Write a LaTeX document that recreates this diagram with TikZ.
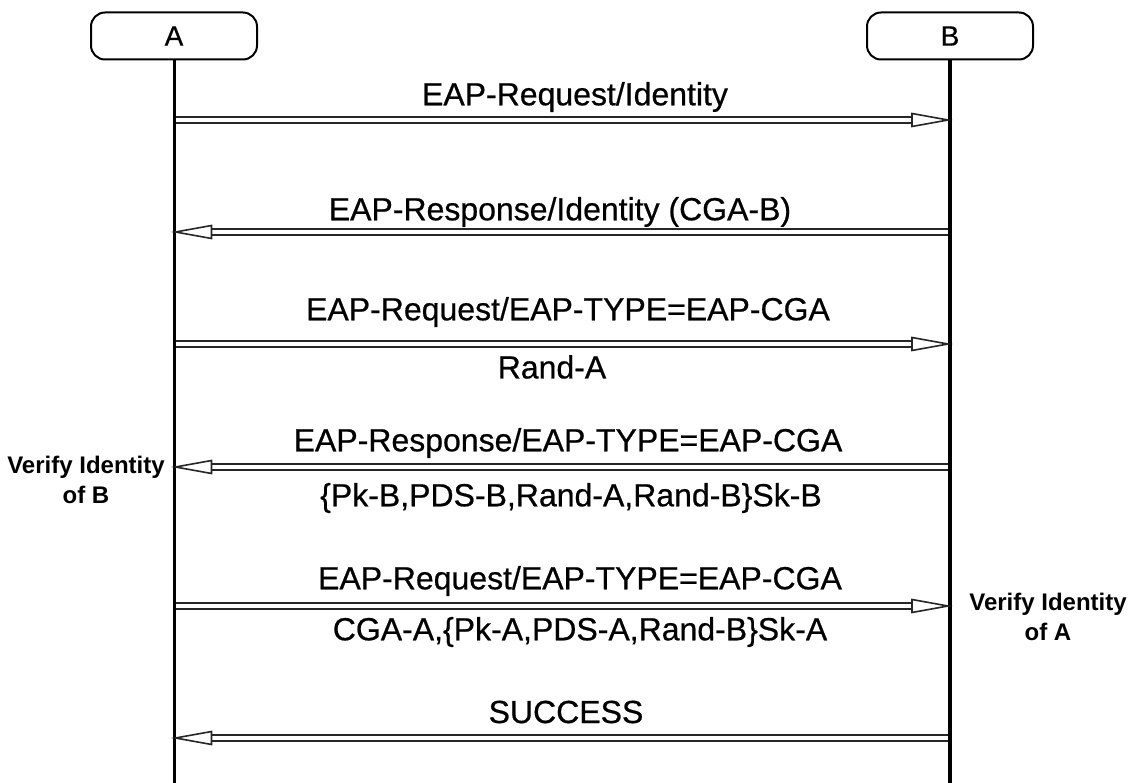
\documentclass[tikz,border=0pt]{standalone}
\usepackage{fontspec}
\setmainfont{Liberation Sans}
\newfontfamily\heavyfont[FakeBold=0.6]{Liberation Sans}
\usetikzlibrary{arrows.meta}
\begin{document}
\begin{tikzpicture}[x=1pt,y=-1pt,
 actor/.style={draw, line width=2pt, rounded corners=14pt, minimum width=166pt, minimum height=47pt, inner sep=0pt, font=\heavyfont\fontsize{28}{32}\selectfont},
 life/.style={line width=3pt},
 shaft/.style={draw=black!85, double=white, double distance=3.2pt, line width=2pt},
 head/.style={draw=black!85, fill=white, line width=1.6pt, line join=miter},
 lbl/.style={font=\heavyfont\fontsize{32}{36}\selectfont, inner sep=0pt},
 side/.style={font=\bfseries\fontsize{24}{30}\selectfont, align=center, inner sep=0pt}]
\useasboundingbox (0,0) rectangle (1130,783);
% actors
\node[actor] (A) at (174,36) {A};
\node[actor] (B) at (950,36) {B};
\coordinate (Aend) at (174,783);
\coordinate (Bend) at (950,783);
\draw[life] (A.south) -- (Aend);
\draw[life, line width=3.5pt] (B.south) -- (Bend);
% message anchor points
\foreach \i/\y in {1/120,2/232,3/344,4/467,5/606,6/738}{
  \coordinate (a\i) at (175.5,\y);
  \coordinate (b\i) at (948,\y);
}
% A -> B messages
\foreach \i in {1,3,5}{
  \draw[shaft, shorten >=35pt] (a\i) -- (b\i);
  \draw[head] (b\i) -- ++(-36,6.5) -- ++(0,-13) -- cycle;
}
% B -> A messages
\foreach \i in {2,4,6}{
  \draw[shaft, shorten >=35pt] (b\i) -- (a\i);
  \draw[head] (a\i) -- ++(36,6.5) -- ++(0,-13) -- cycle;
}
% labels
\node[lbl] (l1) at (575,97) {EAP-Request/Identity};
\node[lbl] (l2) at (560,212) {EAP-Response/Identity (CGA-B)};
\node[lbl] (l3) at (568,312) {EAP-Request/EAP-TYPE=EAP-CGA};
\node[lbl] (l3b) at (552,367) {Rand-A};
\node[lbl] (l4) at (568,443) {EAP-Response/EAP-TYPE=EAP-CGA};
\node[lbl] (l4b) at (571,498) {\{Pk-B,PDS-B,Rand-A,Rand-B\}Sk-B};
\node[lbl] (l5) at (580,581) {EAP-Request/EAP-TYPE=EAP-CGA};
\node[lbl] (l5b) at (580,632) {CGA-A,\{Pk-A,PDS-A,Rand-B\}Sk-A};
\node[lbl] (l6) at (566,712) {SUCCESS};
% side notes
\node[side] (vB) at (86,480) {Verify Identity\\of B};
\node[side] (vA) at (1048,617) {Verify Identity\\of A};
\end{tikzpicture}
\end{document}
